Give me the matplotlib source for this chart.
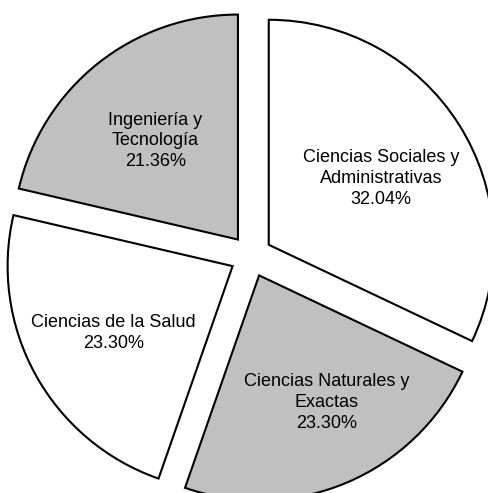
import matplotlib
matplotlib.use("Agg")
import matplotlib.pyplot as plt
import numpy as np

categories = ["Ciencias Sociales y\nAdministrativas", "Ciencias Naturales y\nExactas",
              "Ciencias de la Salud", "Ingeniería y\nTecnología"]
values = [32.04, 23.30, 23.30, 21.36]
colors = ["#ffffff", "#c0c0c0", "#ffffff", "#c0c0c0"]
label_dist = [0.579, 0.639, 0.607, 0.571]
label_turn = [-1.9, 5.45, 0.45, 1.45]

plt.rcParams['font.family'] = ['Liberation Sans', 'DejaVu Sans']

fig = plt.figure(figsize=(4.89, 4.93), dpi=100)
ax = fig.add_axes([0, 0, 1, 1])
R = 225
cx, cy = 251, 493 - 256
wedges, _ = ax.pie(values, colors=colors, startangle=90, counterclock=False,
                   radius=R, center=(cx, cy), explode=[21] * 4,
                   wedgeprops=dict(edgecolor="black", linewidth=1.5),
                   frame=False)
ax.set_xlim(0, 489)
ax.set_ylim(0, 493)
ax.set_aspect('equal')
ax.axis('off')

for w, cat, v, d, t in zip(wedges, categories, values, label_dist, label_turn):
    ang = np.deg2rad((w.theta1 + w.theta2) / 2 + t)
    wcx, wcy = w.center
    x = wcx + d * R * np.cos(ang)
    y = wcy + d * R * np.sin(ang)
    ax.text(x, y, f"{cat}\n{v:.2f}%", ha="center", va="center",
            fontsize=13, linespacing=1.3)

fig.savefig("out.png", dpi=100)
